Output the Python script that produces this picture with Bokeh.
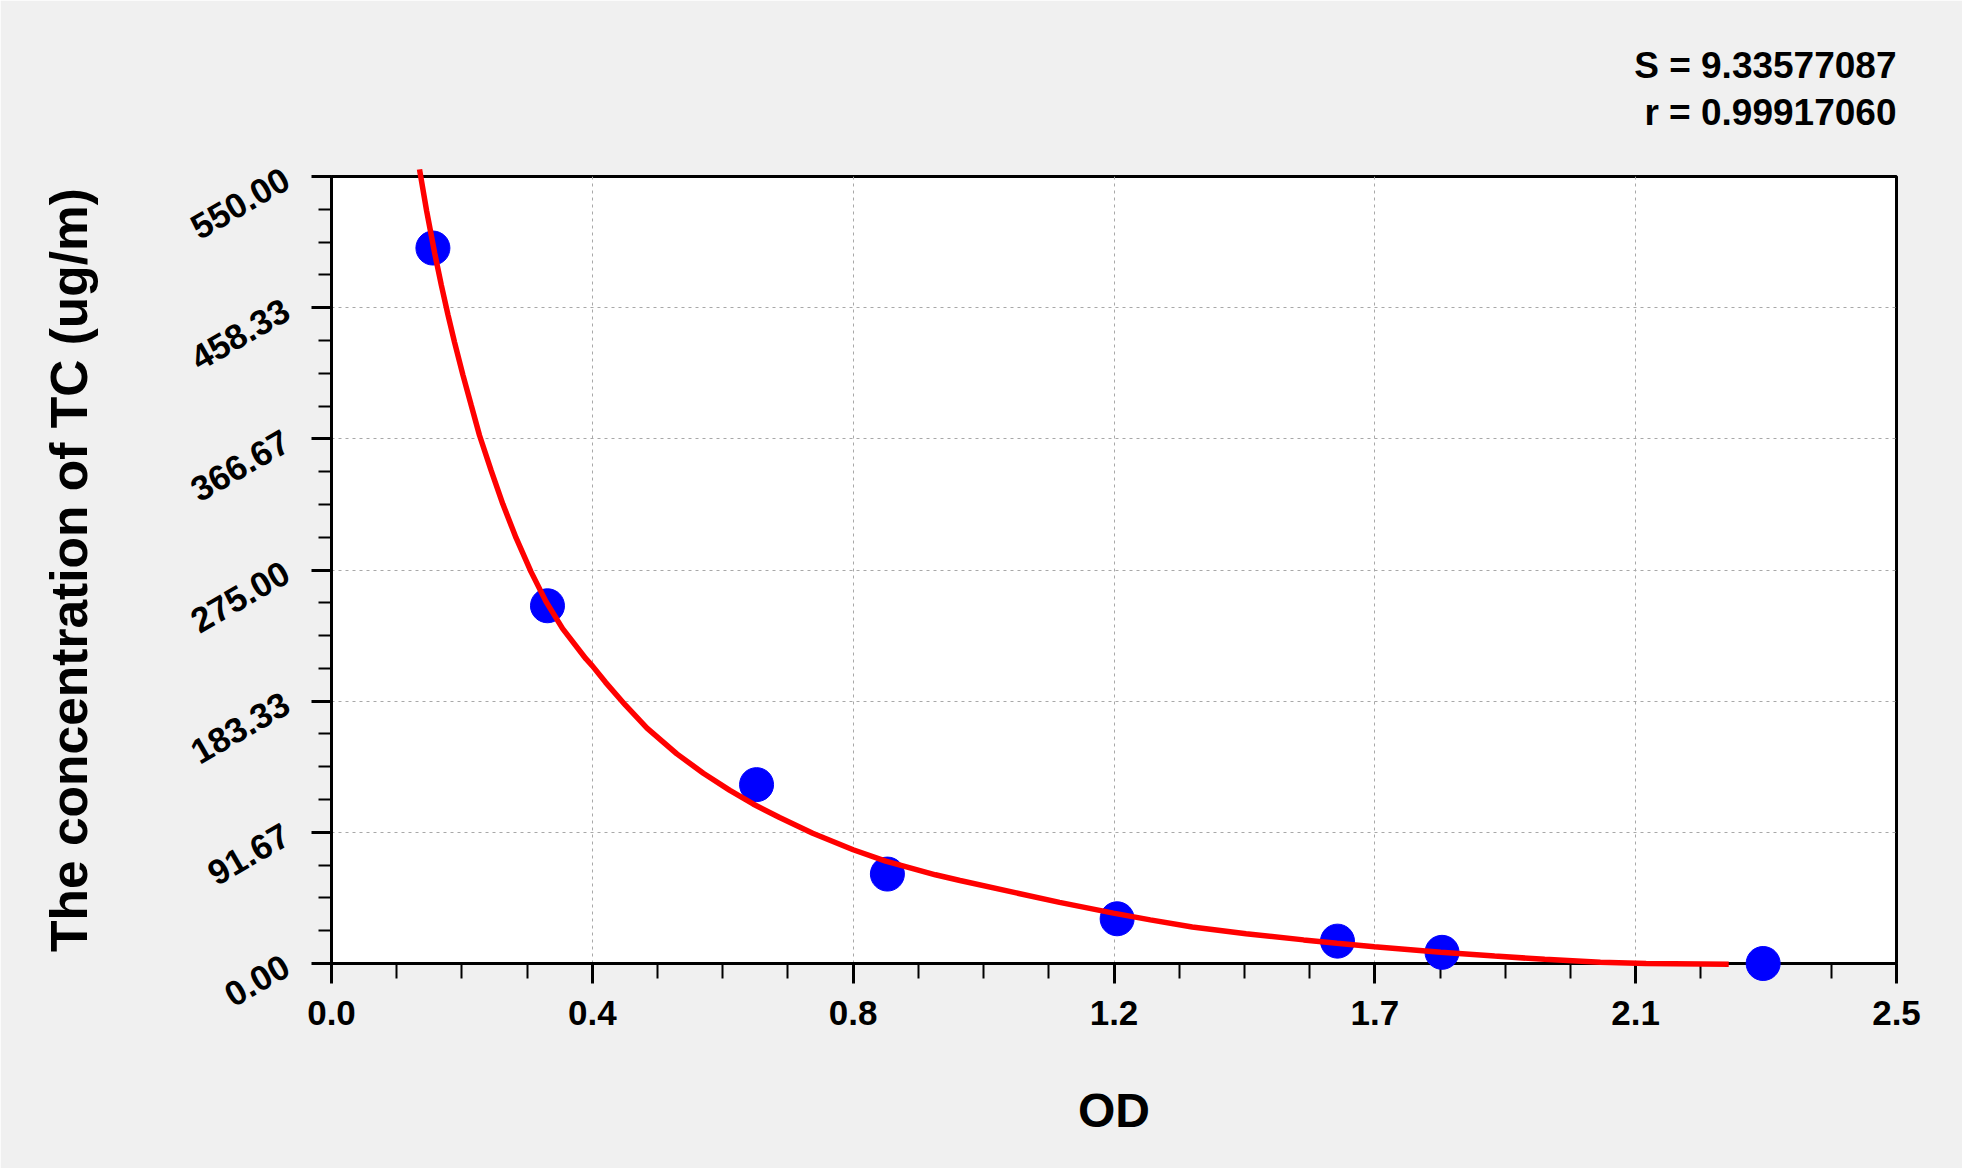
import math
from bokeh.plotting import figure
from bokeh.models import Range1d, FixedTicker, CustomJSTickFormatter
from bokeh.embed import file_html
from bokeh.resources import INLINE

# ---- data ----
od_points = [0.162, 0.345, 0.679, 0.888, 1.255, 1.607, 1.774, 2.287]
conc_points = [500.0, 250.0, 125.0, 62.5, 31.25, 15.63, 7.81, 0.0]

curve_od = [0.1406, 0.152, 0.1648, 0.1755, 0.186, 0.1966, 0.21, 0.2232, 0.2365,
            0.2551, 0.2737, 0.2949, 0.3188, 0.3427, 0.3692, 0.4063, 0.4167,
            0.4378, 0.4696, 0.504, 0.5517, 0.594, 0.6364, 0.6734, 0.7158,
            0.7687, 0.8333, 0.8853, 0.9647, 1.004, 1.163, 1.249, 1.308, 1.375,
            1.461, 1.553, 1.606, 1.666, 1.772, 1.858, 1.938, 2.027, 2.1, 2.232]
curve_conc = [555.0, 525.9, 496.5, 474.0, 453.5, 434.1, 411.2, 390.1, 369.0,
              344.4, 321.1, 297.4, 273.7, 252.9, 234.0, 213.0, 208.0,
              196.5, 180.5, 164.5, 146.5, 133.0, 121.0, 111.5, 102.0,
              91.0, 79.5, 71.5, 62.0, 58.0, 42.7, 35.2, 30.5, 25.5,
              20.8, 16.5, 14.2, 11.7, 7.9, 5.2, 2.9, 0.8, 0.0, -0.5]

x_tick_labels = ["0.0", "0.4", "0.8", "1.2", "1.7", "2.1", "2.5"]
y_tick_labels = ["0.00", "91.67", "183.33", "275.00", "366.67", "458.33", "550.00"]
stat_lines = ["S = 9.33577087", "r = 0.99917060"]

x_max = 2.5
y_max = 550.0
n_div = 6
n_minor = 4

x_major = [x_max * i / n_div for i in range(n_div + 1)]
x_minor = [x_max * i / (n_div * n_minor) for i in range(n_div * n_minor + 1)]
y_major = [y_max * i / n_div for i in range(n_div + 1)]
y_minor = [y_max * i / (n_div * n_minor) for i in range(n_div * n_minor + 1)]

FONT = "Liberation Sans"

p = figure(width=1962, height=1168, output_backend="svg", toolbar_location=None,
           x_range=Range1d(0, x_max), y_range=Range1d(0, y_max),
           min_border_left=331, min_border_right=66, min_border_top=176,
           min_border_bottom=205)
p.border_fill_color = "#f0f0f0"
p.background_fill_color = "white"
p.outline_line_color = "black"
p.outline_line_width = 3

fmt_js = """
let best = 0; let bd = Infinity;
for (let i = 0; i < tvals.length; i++) {
  const d = Math.abs(tvals[i] - tick);
  if (d < bd) { bd = d; best = i; }
}
return tlabels[best];
"""

xt = FixedTicker(ticks=x_major, minor_ticks=x_minor)
yt = FixedTicker(ticks=y_major, minor_ticks=y_minor)

xa = p.xaxis[0]
xa.ticker = xt
xa.formatter = CustomJSTickFormatter(args=dict(tvals=x_major, tlabels=x_tick_labels), code=fmt_js)
ya = p.yaxis[0]
ya.ticker = yt
ya.formatter = CustomJSTickFormatter(args=dict(tvals=y_major, tlabels=y_tick_labels), code=fmt_js)

for ax in (xa, ya):
    ax.axis_line_color = "black"
    ax.axis_line_width = 3
    ax.major_tick_line_color = "black"
    ax.major_tick_line_width = 3
    ax.minor_tick_line_color = "black"
    ax.minor_tick_line_width = 2
    ax.major_tick_in = 0
    ax.minor_tick_in = 0
    ax.major_tick_out = 20
    ax.major_label_text_font = FONT
    ax.major_label_text_font_style = "bold"
    ax.major_label_text_font_size = "35px"
    ax.major_label_text_color = "black"
    ax.axis_label_text_font = FONT
    ax.axis_label_text_font_style = "bold"
    ax.axis_label_text_color = "black"

xa.minor_tick_out = 15
ya.minor_tick_out = 13
xa.major_label_standoff = 17
ya.major_label_standoff = 25
ya.major_label_orientation = math.pi / 6

xa.axis_label = "OD"
xa.axis_label_text_font_size = "48px"
xa.axis_label_standoff = 56
ya.axis_label = "The concentration of TC (ug/m)"
ya.axis_label_text_font_size = "51.5px"
ya.axis_label_standoff = 81

for g, t in ((p.xgrid[0], xt), (p.ygrid[0], yt)):
    g.ticker = t
    g.grid_line_color = "#a8a8a8"
    g.grid_line_width = 1
    g.grid_line_dash = "3 4"

p.scatter(od_points, conc_points, size=34, color="#0000ff", level="overlay")
p.line(curve_od, curve_conc, line_width=5.5, color="#ff0000", level="overlay")

# statistics text (two lines), right-aligned above the frame
p.title.text = "\n".join(stat_lines)
p.title.align = "right"
if "text_align" in p.title.properties():
    p.title.text_align = "right"
p.title.text_font = FONT
p.title.text_font_style = "bold"
p.title.text_font_size = "37px"
p.title.text_color = "black"
p.title.text_line_height = 1.158
p.title.standoff = 86

open("out.html", "w").write(file_html(p, INLINE))
